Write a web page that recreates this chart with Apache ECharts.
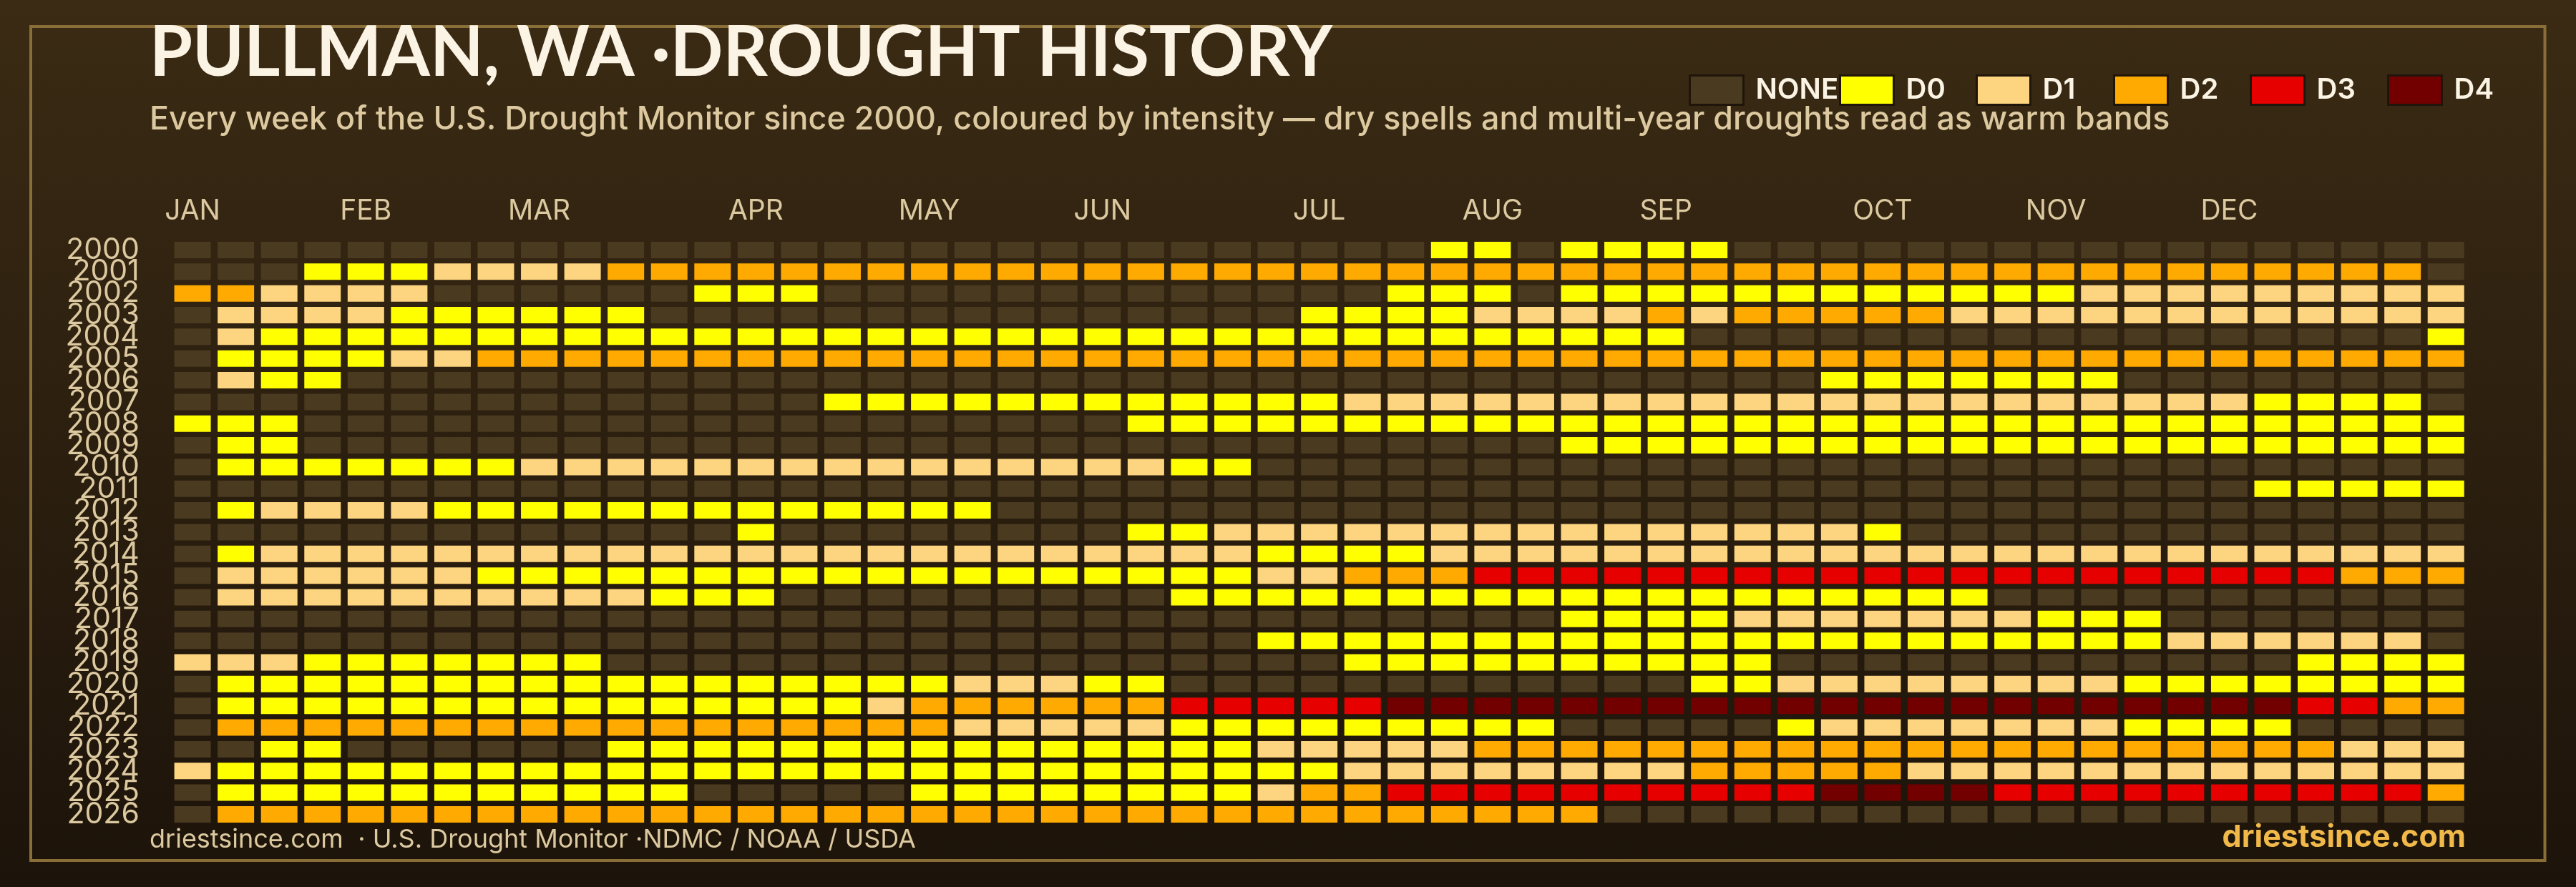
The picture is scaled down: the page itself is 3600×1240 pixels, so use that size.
<!DOCTYPE html>
<html>
<head>
    <meta charset="utf-8">
    <title>Pullman, WA drought history</title>
    <style>
        html, body { margin: 0; padding: 0; height: 100%; background: #1c130a; }
        #container { width: 3600px; height: 1240px; }
    </style>
</head>
<body>
    <div id="container"></div>
    <script src="https://cdn.jsdelivr.net/npm/echarts@6/dist/echarts.min.js"></script>
    <script>
    // week tick labels, one per column (month name on its first week)
    var weekLabels = ['JAN','','','','FEB','','','','MAR','','','','','APR','','','','MAY','','','','JUN','','','','',
        'JUL','','','','AUG','','','','SEP','','','','','OCT','','','','NOV','','','','DEC','','','','',''];
    var years = ['2000','2001','2002','2003','2004','2005','2006','2007','2008','2009','2010','2011','2012','2013',
        '2014','2015','2016','2017','2018','2019','2020','2021','2022','2023','2024','2025','2026'];
    var levels = ['NONE','D0','D1','D2','D3','D4'];
    var levelColors = ['#4a3a1f','#ffff00','#fdd47f','#ffaa00','#e60000','#730000'];
    var legendLeft = [2360,2570,2761,2953,3144,3336];

    // each year as runs of [level index, number of weeks], read left to right
    var yearRuns = [
        [[0,29],[1,2],[0,1],[1,4],[0,17]],
        [[0,3],[1,3],[2,4],[3,42],[0,1]],
        [[3,2],[2,4],[0,6],[1,3],[0,13],[1,3],[0,1],[1,12],[2,9]],
        [[0,1],[2,4],[1,6],[0,15],[1,4],[2,4],[3,1],[2,1],[3,5],[2,12]],
        [[0,1],[2,1],[1,33],[0,17],[1,1]],
        [[0,1],[1,4],[2,2],[3,46]],
        [[0,1],[2,1],[1,2],[0,34],[1,7],[0,8]],
        [[0,15],[1,12],[2,21],[1,4],[0,1]],
        [[1,3],[0,19],[1,31]],
        [[0,1],[1,2],[0,29],[1,21]],
        [[0,1],[1,7],[2,15],[1,2],[0,28]],
        [[0,48],[1,5]],
        [[0,1],[1,1],[2,4],[1,13],[0,34]],
        [[0,13],[1,1],[0,8],[1,2],[2,15],[1,1],[0,13]],
        [[0,1],[1,1],[2,23],[1,4],[2,24]],
        [[0,1],[2,6],[1,18],[2,2],[3,3],[4,20],[3,3]],
        [[0,1],[2,10],[1,3],[0,9],[1,19],[0,11]],
        [[0,32],[1,4],[2,7],[1,3],[0,7]],
        [[0,25],[1,21],[2,6],[0,1]],
        [[2,3],[1,7],[0,17],[1,10],[0,12],[1,4]],
        [[0,1],[1,17],[2,3],[1,2],[0,12],[1,2],[2,8],[1,8]],
        [[0,1],[1,15],[2,1],[3,6],[4,5],[5,21],[4,2],[3,2]],
        [[0,1],[3,17],[2,5],[1,9],[0,5],[1,1],[2,7],[1,4],[0,4]],
        [[0,2],[1,2],[0,6],[1,15],[2,5],[3,20],[2,3]],
        [[2,1],[1,26],[2,8],[3,5],[2,13]],
        [[0,1],[1,11],[0,5],[1,8],[2,1],[3,2],[4,10],[5,4],[4,10],[3,1]],
        [[0,1],[3,32],[0,20]]
    ];

    var FONT = 'Inter';
    var TITLE_COLOR = '#fbf3e3';
    var LABEL_COLOR = '#dcc9a0';

    // one [week, year] list per level
    var cellsByLevel = levels.map(function () { return []; });
    yearRuns.forEach(function (runs, row) {
        var col = 0;
        runs.forEach(function (run) {
            for (var n = 0; n < run[1]; n++) {
                cellsByLevel[run[0]].push([col, row]);
                col++;
            }
        });
    });

    var myChart = echarts.init(document.getElementById('container'));

    var option = {
        animation: false,
        backgroundColor: {
            type: 'linear', x: 0, y: 0, x2: 0, y2: 1,
            colorStops: [{ offset: 0, color: '#3b2b14' }, { offset: 1, color: '#1c130a' }]
        },
        textStyle: { fontFamily: FONT },
        title: {
            left: 209,
            top: 26,
            padding: 0,
            text: 'PULLMAN, WA \u00b7DROUGHT HISTORY',
            textStyle: { fontFamily: 'Lato', fontSize: 97, fontWeight: 'bold', color: TITLE_COLOR },
            subtext: 'Every week of the U.S. Drought Monitor since 2000, coloured by intensity \u2014 dry spells and multi-year droughts read as warm bands',
            subtextStyle: { fontFamily: FONT, fontSize: 44.8, fontWeight: 500, color: LABEL_COLOR },
            itemGap: 22
        },
        legend: levels.map(function (name, i) {
            return {
                data: [name],
                left: legendLeft[i],
                top: 104,
                padding: 0,
                icon: 'rect',
                itemWidth: 75,
                itemHeight: 41,
                itemStyle: { borderColor: '#1f150a', borderWidth: 3 },
                textStyle: { fontFamily: FONT, fontSize: 40, fontWeight: 600, color: TITLE_COLOR, padding: [0, 0, 0, 12] }
            };
        }),
        grid: { left: 238.8, top: 334.3, width: 3209.7, height: 819.3 },
        xAxis: {
            type: 'category',
            position: 'top',
            data: weekLabels,
            axisLine: { show: false },
            axisTick: { show: false },
            axisLabel: { interval: 0, margin: 20, fontFamily: FONT, fontSize: 39, color: LABEL_COLOR }
        },
        yAxis: {
            type: 'category',
            inverse: true,
            data: years,
            axisLine: { show: false },
            axisTick: { show: false },
            axisLabel: { interval: 0, margin: 44, fontFamily: FONT, fontSize: 41, color: LABEL_COLOR, padding: [0, 0, 8, 0] }
        },
        series: levels.map(function (name, i) {
            return {
                name: name,
                type: 'scatter',
                symbol: 'rect',
                symbolSize: [51, 23],
                progressive: 0,
                itemStyle: { color: levelColors[i], opacity: 1 },
                data: cellsByLevel[i]
            };
        }),
        graphic: [
            {
                type: 'rect',
                z: 0,
                shape: { x: 43, y: 37, width: 3513.5, height: 1166 },
                style: { fill: null, stroke: '#8a6e38', lineWidth: 4 }
            },
            {
                type: 'text',
                left: 209,
                top: 1156,
                style: { text: 'driestsince.com  \u00b7 U.S. Drought Monitor \u00b7NDMC / NOAA / USDA', font: '36px ' + FONT, fill: LABEL_COLOR }
            },
            {
                type: 'text',
                right: 154,
                top: 1150,
                style: { text: 'driestsince.com', font: 'bold 43px ' + FONT, fill: '#f0b94a' }
            }
        ]
    };

    myChart.setOption(option);
    </script>
</body>
</html>
